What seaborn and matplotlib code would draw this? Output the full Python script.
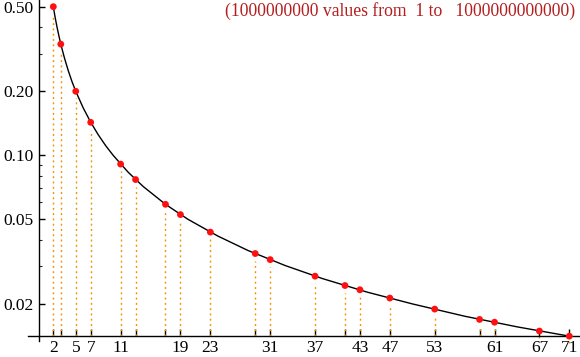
import numpy as np
import seaborn as sns
import matplotlib.pyplot as plt
from matplotlib.ticker import FixedLocator, FixedFormatter, NullFormatter

# primes and the share of values divisible by each
primes = [2, 3, 5, 7, 11, 13, 17, 19, 23, 29, 31, 37, 41, 43, 47, 53, 59, 61, 67, 71]
shares = [0.500, 0.3333, 0.2000, 0.1429, 0.0909, 0.0769, 0.0588, 0.0526, 0.0435, 0.0345,
          0.0323, 0.0270, 0.0244, 0.0233, 0.0213, 0.0189, 0.0169, 0.0164, 0.0149, 0.0141]

# knots along the black reference curve
curve_x = [2, 2.25, 2.5, 2.75, 3, 3.5, 4, 4.5, 5, 6, 7, 8, 9, 10, 12, 14, 17, 20, 24,
           28, 33, 38, 44, 50, 57, 64, 71]
curve_y = [0.500, 0.444, 0.400, 0.364, 0.333, 0.286, 0.250, 0.222, 0.200, 0.167, 0.143,
           0.125, 0.111, 0.100, 0.0833, 0.0714, 0.0588, 0.0500, 0.0417, 0.0357, 0.0303,
           0.0263, 0.0227, 0.0200, 0.0175, 0.0156, 0.0141]

xtick_labels = ["2", "", "5", "7", "11", "", "", "19", "23", "", "31", "37", "",
                "43", "47", "53", "", "61", "67", "71"]
ytick_vals = [0.02, 0.05, 0.10, 0.20, 0.50]
ytick_labels = ["0.02", "0.05", "0.10", "0.20", "0.50"]
ytick_minor = [0.03, 0.04, 0.06, 0.07, 0.08, 0.09, 0.3, 0.4]
note = "(1000000000 values from  1 to   1000000000000)"

sns.set_style("ticks")
plt.rcParams["font.family"] = ["Liberation Serif", "DejaVu Serif"]

fig = plt.figure(figsize=(5.8, 3.57), dpi=100)
ax = fig.add_axes([0, 0, 1, 1])
ax.set_yscale("log")
ax.set_xlim(-5.13, 72.43)
ax.set_ylim(0.01125, 0.5376)

axis_y = 1 / 71
# dotted drop lines, starting a little under each point
ax.vlines(primes, axis_y, np.array(shares) * 0.925, colors="#f39200",
          linestyles=(0, (1.4, 2.4)), linewidth=1.0, zorder=1)

sns.lineplot(x=curve_x, y=curve_y, color="black", linewidth=1.0, ax=ax, zorder=2)
sns.scatterplot(x=primes, y=shares, color="#ff1010", s=24, edgecolor="none", ax=ax, zorder=3)

for s in ["top", "right"]:
    ax.spines[s].set_visible(False)
ax.spines["left"].set_position(("data", 0.13))
ax.spines["bottom"].set_position(("data", axis_y))
ax.spines["left"].set_bounds(0.01338, 0.5376)
ax.spines["bottom"].set_bounds(-1.34, 72.43)
for s in ["left", "bottom"]:
    ax.spines[s].set_linewidth(1.0)
    ax.spines[s].set_color("black")

ax.xaxis.set_major_locator(FixedLocator(primes))
ax.xaxis.set_major_formatter(FixedFormatter(xtick_labels))
ax.yaxis.set_major_locator(FixedLocator(ytick_vals))
ax.yaxis.set_major_formatter(FixedFormatter(ytick_labels))
ax.yaxis.set_minor_locator(FixedLocator(ytick_minor))
ax.yaxis.set_minor_formatter(NullFormatter())
ax.xaxis.set_minor_locator(FixedLocator([]))

ax.tick_params(axis="x", which="major", direction="in", length=5, width=1.0,
               pad=3, labelsize=12.5, colors="black")
ax.tick_params(axis="y", which="major", direction="in", length=4.3, width=1.0,
               pad=4.3, labelsize=12.5, colors="black")
ax.tick_params(axis="y", which="minor", direction="in", length=2.2, width=0.8)
ax.set_xlabel("")
ax.set_ylabel("")

fig.text(575 / 580, 1 - 16 / 357, note, color="#b41e1e", fontsize=12.7,
         ha="right", va="baseline")

fig.savefig("out.png", dpi=100)
